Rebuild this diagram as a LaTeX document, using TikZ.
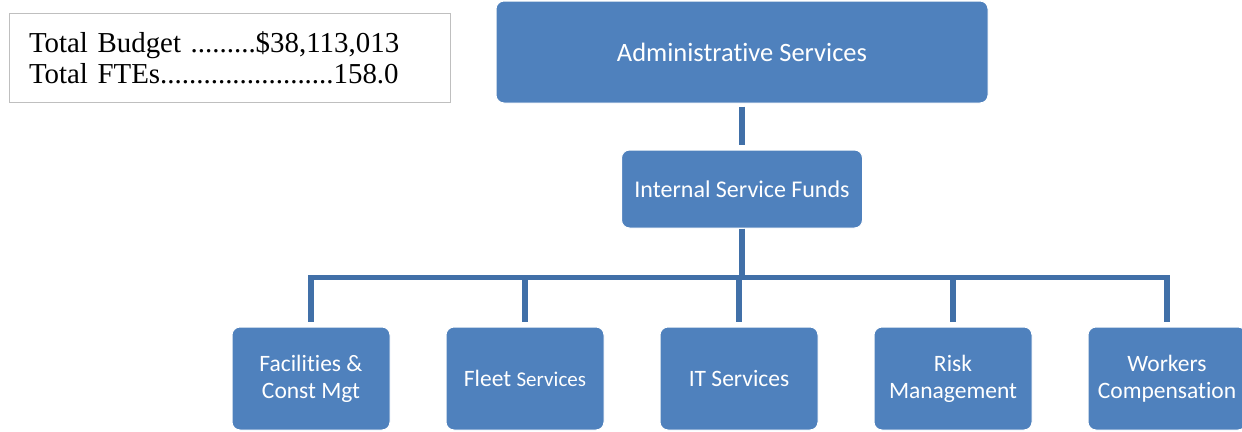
\documentclass[tikz,border=0pt]{standalone}
\usepackage{fontspec}
\setmainfont{Carlito}[RawFeature=-liga]
\newfontfamily\serifface{Liberation Serif}
\usetikzlibrary{backgrounds}
\definecolor{boxblue}{HTML}{4F81BD}
\definecolor{linkblue}{HTML}{4170A8}
\definecolor{framegray}{HTML}{BFBFBF}
\tikzset{
  unitbox/.style={rectangle, rounded corners=8pt, fill=boxblue, draw=white,
    line width=1pt, text=white, align=center, inner sep=2pt},
  topbox/.style={unitbox, minimum width=492pt, minimum height=102pt,
    font=\fontsize{26.5}{31}\selectfont},
  midbox/.style={unitbox, minimum width=241pt, minimum height=78pt,
    font=\fontsize{24}{28}\selectfont},
  leafbox/.style={unitbox, minimum width=158pt, minimum height=103pt,
    font=\fontsize{23.5}{27}\selectfont},
  link/.style={draw=linkblue, line width=5.5pt},
  infobox/.style={rectangle, draw=framegray, line width=1pt, align=left,
    minimum width=441pt, minimum height=89pt, text width=401pt,
    inner xsep=20pt, font=\serifface\fontsize{28.9}{30.5}\selectfont}
}
\begin{document}
\begin{tikzpicture}[x=1pt, y=-1pt]
  \useasboundingbox (0,0) rectangle (1242,431);

  % summary figures
  \node[infobox] (info) at (229.5,57.5)
    {Total Budget .........\$38,113,013\\Total FTEs........................158.0};

  % department and fund level
  \node[topbox] (admin) at (742,52) {Administrative Services};
  \node[midbox] (isf) at (742,189) {Internal Service Funds};

  % divisions
  \node[leafbox] (fac)   at (311,378.5)  {Facilities \&\\Const Mgt};
  \node[leafbox] (fleet) at (525,378.5)  {Fleet {\fontsize{21}{25}\selectfont Services}};
  \node[leafbox] (its)   at (739,378.5)  {IT Services};
  \node[leafbox] (risk)  at (953,378.5)  {Risk\\Management};
  \node[leafbox] (wc)    at (1167,378.5) {Workers\\Compensation};

  % connectors
  \begin{scope}[on background layer]
    \draw[link, shorten <=3pt, shorten >=5pt] (admin.south) -- (isf.north);
    \foreach \c in {fac,fleet,its,risk,wc}
      \draw[link, shorten >=5pt] (isf.south) -- ++(0,49) -| (\c.north);
  \end{scope}
\end{tikzpicture}
\end{document}
